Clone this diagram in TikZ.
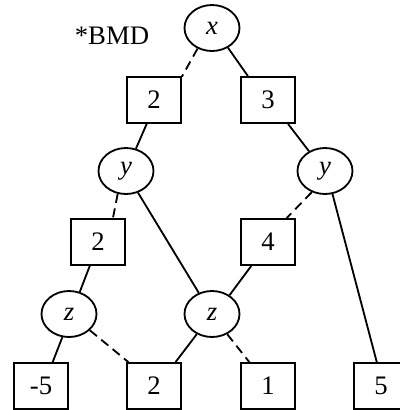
\documentclass[tikz,border=0pt]{standalone}
\usepackage{fontspec}
\setmainfont{Liberation Serif}
\usepackage{tikz}
\usetikzlibrary{shapes}
\tikzstyle{varnode}=[draw, ellipse, line width=1.3pt, inner sep=0, minimum width=1.375cm, minimum height=1.15cm, font=\fontsize{19}{22}\selectfont\itshape]
\tikzstyle{weightnode}=[draw, rectangle, line width=1.3pt, inner sep=0, minimum width=1.35cm, minimum height=1.15cm, font=\fontsize{19}{22}\selectfont]
\tikzstyle{hiedge}=[line width=1.3pt]
\tikzstyle{loedge}=[line width=1.3pt, dash pattern=on 6.5pt off 4pt]

\begin{document}
\begin{tikzpicture}[x=0.025cm, y=-0.025cm]
          \useasboundingbox (0, 0) rectangle (400, 410);
          \node[font=\fontsize{19}{22}\selectfont] (title) at (112, 36) {*BMD};
          \node[varnode] (x) at (212, 28) {x};
          \node[weightnode] (w2) at (154, 100) {2};
          \node[weightnode] (w3) at (268, 100) {3};
          \node[varnode] (y_left) at (126, 171) {y};
          \node[varnode] (y_right) at (325, 171) {y};
          \node[weightnode] (w2b) at (98, 242) {2};
          \node[weightnode] (w4) at (268, 242) {4};
          \node[varnode] (z_left) at (69, 314) {z};
          \node[varnode] (z_mid) at (212, 314) {z};
          \node[weightnode] (leaf_m5) at (41, 386) {-5};
          \node[weightnode] (leaf_2) at (154, 386) {2};
          \node[weightnode] (leaf_1) at (268, 386) {1};
          \node[weightnode] (leaf_5) at (381, 386) {5};

          \draw[loedge] (x.235) to (w2.40);
          \draw[hiedge] (x.309) to (w3.130);
          \draw[hiedge] (w2.253) to (y_left.66);
          \draw[hiedge] (w3.310) to (y_right.129);
          \draw[loedge] (y_left.250) to (w2b.58);
          \draw[hiedge] (y_left.299) to (z_mid.122);
          \draw[loedge] (y_right.238) to (w4.52);
          \draw[hiedge] (y_right.288) to (leaf_5.100);
          \draw[hiedge] (w2b.251) to (z_left.64);
          \draw[hiedge] (w4.235) to (z_mid.47);
          \draw[hiedge] (z_left.254) to (leaf_m5.64);
          \draw[loedge] (z_left.322) to (leaf_2.137);
          \draw[hiedge] (z_mid.233) to (leaf_2.48);
          \draw[loedge] (z_mid.307) to (leaf_1.128);
        \end{tikzpicture}
\end{document}
